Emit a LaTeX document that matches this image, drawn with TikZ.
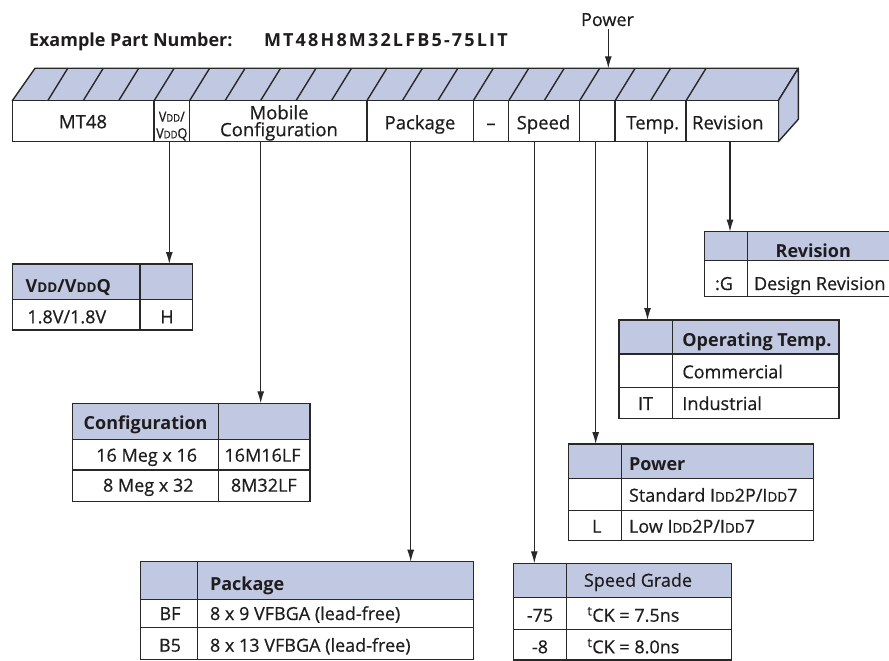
\documentclass[tikz,border=0pt]{standalone}
\usepackage{fontspec}
\setmainfont{Open Sans}[UprightFeatures={FakeBold=0.5}]
\usepackage{graphicx}
\usetikzlibrary{arrows.meta}
\definecolor{hdrc}{RGB}{193,200,226}
\definecolor{linec}{RGB}{40,40,40}
\definecolor{txtc}{RGB}{30,28,29}
\newcommand\lowdd[1]{\scalebox{0.75}{#1}}
\begin{document}
\begin{tikzpicture}[x=1pt,y=-1pt,line width=1.4pt,color=linec,
  txt/.style={inner sep=0pt,text=txtc,font=\fontsize{18}{20}\selectfont},
  bxt/.style={inner sep=0pt,text=txtc,font=\fontsize{18.5}{20}\selectfont},
  hd/.style={inner sep=0pt,text=txtc,font=\fontsize{18}{20}\selectfont\bfseries},
  arr/.style={line width=1.1pt,-{Latex[length=12pt,width=7pt]}},
  tline/.style={line width=1.4pt}]
\useasboundingbox (0,0) rectangle (889,661);

% title
\node[hd,anchor=base west] (title) at (28.3,46.7) {Example Part Number:};
\node[hd,anchor=base west] (pn) at (263.3,46.7) {\addfontfeature{LetterSpace=12}MT48H8M32LFB5-75LIT};
\node[txt,anchor=base] (powerlbl) at (607.5,26) {Power};

% 3D box
\draw[fill=hdrc,line join=round] (12.3,100.7) -- (35,68.3) -- (798.3,68.3) -- (778.3,100.7) -- cycle;
\draw[fill=hdrc,line join=round] (778.3,100.7) -- (798.3,68.3) -- (798.3,119.3) -- (778.3,141.7) -- cycle;
\foreach \k in {1,...,19} \draw (12.3+35.46*\k,100.7) -- ++(20,-32.4);
\draw[fill=white] (12.3,100.7) rectangle (778.3,141.7);
\foreach \k in {4,5,10,13,14,16,17,19} \draw (12.3+35.46*\k,100.7) -- (12.3+35.46*\k,141.7);

\node[bxt,anchor=base] (bmt) at (83,128.3) {MT48};
\node[inner sep=0pt,text=txtc,font=\fontsize{14}{14}\selectfont,anchor=base] (bv1) at (171.8,121.7) {\scalebox{0.9}[1]{V\lowdd{DD}/}};
\node[inner sep=0pt,text=txtc,font=\fontsize{14}{14}\selectfont,anchor=base] (bv2) at (171.8,138.3) {\scalebox{0.9}[1]{V\lowdd{DD}Q}};
\node[bxt,anchor=base] (bmob) at (279,119.3) {Mobile};
\node[bxt,anchor=base] (bcfg) at (279,136.2) {Configuration};
\node[bxt,anchor=base] (bpkg) at (420,129.3) {Package};
\node[bxt,anchor=base] (bdash) at (491,129.3) {–};
\node[bxt,anchor=base] (bspd) at (543.5,129.3) {Speed};
\node[bxt,anchor=base] (btmp) at (652.7,129.3) {Temp.};
\node[bxt,anchor=base] (brev) at (727.8,129.3) {Revision};

% connector coordinates
\coordinate (pwrS) at (608.3,29);   \coordinate (pwrT) at (608.3,68.3);
\coordinate (vddS) at (169.3,141.7); \coordinate (vddT) at (169.3,264);
\coordinate (cfgS) at (260.7,141.7); \coordinate (cfgT) at (260.7,403.3);
\coordinate (pkgS) at (410.7,141.7); \coordinate (pkgT) at (410.7,561.7);
\coordinate (spdS) at (534.3,141.7); \coordinate (spdT) at (534.3,563.3);
\coordinate (powS) at (595.7,141.7); \coordinate (powT) at (595.7,444);
\coordinate (tmpS) at (647.5,141.7); \coordinate (tmpT) at (647.5,320);
\coordinate (revS) at (730,141.7);   \coordinate (revT) at (730,231.7);

% VDD table
\fill[hdrc] (12.7,264) rectangle (192.7,299.3);
\draw[tline] (12.7,264) rectangle (192.7,330);
\draw[tline] (12.7,299.3) -- (192.7,299.3) (140,264) -- (140,330);
\node[hd,anchor=base west] (vh) at (25,292.7) {V\lowdd{DD}/V\lowdd{DD}Q};
\node[txt,anchor=base west] (v1) at (26.7,323.3) {1.8V/1.8V};
\node[txt,anchor=base] (v2) at (167,323.3) {H};

% Config table
\fill[hdrc] (72.3,403.3) rectangle (310,439.3);
\draw[tline] (72.3,403.3) rectangle (310,501.7);
\draw[tline] (72.3,439.3) -- (310,439.3) (72.3,470) -- (310,470) (218.3,403.3) -- (218.3,501.7);
\node[hd,anchor=base west] (ch) at (83,429.3) {Configuration};
\node[txt,anchor=base] (c11) at (146.7,461.7) {16 Meg x 16};
\node[txt,anchor=base] (c12) at (262.5,461.7) {16M16LF};
\node[txt,anchor=base] (c21) at (148.3,491.7) {8 Meg x 32};
\node[txt,anchor=base] (c22) at (263.8,491.7) {8M32LF};

% Package table
\fill[hdrc] (140.7,561.7) rectangle (473.3,599.3);
\draw[tline] (140.7,561.7) rectangle (473.3,659.3);
\draw[tline] (140.7,599.3) -- (473.3,599.3) (140.7,627.3) -- (473.3,627.3) (197.3,561.7) -- (197.3,659.3);
\node[hd,anchor=base west] (ph) at (209.3,590) {Package};
\node[txt,anchor=base] (p11) at (170,620) {BF};
\node[txt,anchor=base west] (p12) at (209.3,620) {8 x 9 VFBGA (lead-free)};
\node[txt,anchor=base] (p21) at (170,651.7) {B5};
\node[txt,anchor=base west] (p22) at (209.3,651.7) {8 x 13 VFBGA (lead-free)};

% Speed table
\fill[hdrc] (513.3,563.3) rectangle (731.7,597.3);
\draw[tline] (513.3,563.3) rectangle (731.7,660);
\draw[tline] (513.3,597.3) -- (731.7,597.3) (513.3,629.3) -- (731.7,629.3) (566.7,563.3) -- (566.7,660);
\node[txt,anchor=base west] (sh) at (583.3,586.7) {Speed Grade};
\node[txt,anchor=base] (s11) at (540,621.7) {-75};
\node[txt,anchor=base west] (s12) at (586.7,621.7) {\textsuperscript{t}CK = 7.5ns};
\node[txt,anchor=base] (s21) at (540,653.3) {-8};
\node[txt,anchor=base west] (s22) at (586.7,653.3) {\textsuperscript{t}CK = 8.0ns};

% Power table
\fill[hdrc] (568.3,444) rectangle (813.3,478.3);
\draw[tline] (568.3,444) rectangle (813.3,540.7);
\draw[tline] (568.3,478.3) -- (813.3,478.3) (568.3,510.7) -- (813.3,510.7) (621.7,444) -- (621.7,540.7);
\node[hd,anchor=base west] (wh) at (628.3,470.7) {Power};
\node[txt,anchor=base west] (w12) at (628.3,501.7) {Standard I\lowdd{DD}2P/I\lowdd{DD}7};
\node[txt,anchor=base] (w21) at (596.7,532.7) {L};
\node[txt,anchor=base west] (w22) at (628.3,532.7) {Low I\lowdd{DD}2P/I\lowdd{DD}7};

% Temp table
\fill[hdrc] (619,320) rectangle (839,354);
\draw[tline] (619,320) rectangle (839,418.3);
\draw[tline] (619,354) -- (839,354) (619,387.3) -- (839,387.3) (672.3,320) -- (672.3,418.3);
\node[hd,anchor=base west] (th) at (681.7,346.7) {Operating Temp.};
\node[txt,anchor=base west] (t12) at (681.7,378.3) {Commercial};
\node[txt,anchor=base] (t21) at (645.5,410) {IT};
\node[txt,anchor=base west] (t22) at (681.7,410) {Industrial};

% Revision table
\fill[hdrc] (704.3,231.7) rectangle (891,260.7);
\draw[tline] (704.3,231.7) rectangle (891,296.7);
\draw[tline] (704.3,260.7) -- (891,260.7) (747.3,231.7) -- (747.3,296.7);
\node[hd,anchor=base] (rh) at (813.3,257.3) {Revision};
\node[txt,anchor=base] (r11) at (724,290) {:G};
\node[txt,anchor=base west] (r12) at (753.3,290) {Design Revision};

% connectors
\draw[arr] (pwrS) -- (pwrT);
\draw[arr] (vddS) -- (vddT);
\draw[arr] (cfgS) -- (cfgT);
\draw[arr] (pkgS) -- (pkgT);
\draw[arr] (spdS) -- (spdT);
\draw[arr] (powS) -- (powT);
\draw[arr] (tmpS) -- (tmpT);
\draw[arr] (revS) -- (revT);
\end{tikzpicture}
\end{document}
